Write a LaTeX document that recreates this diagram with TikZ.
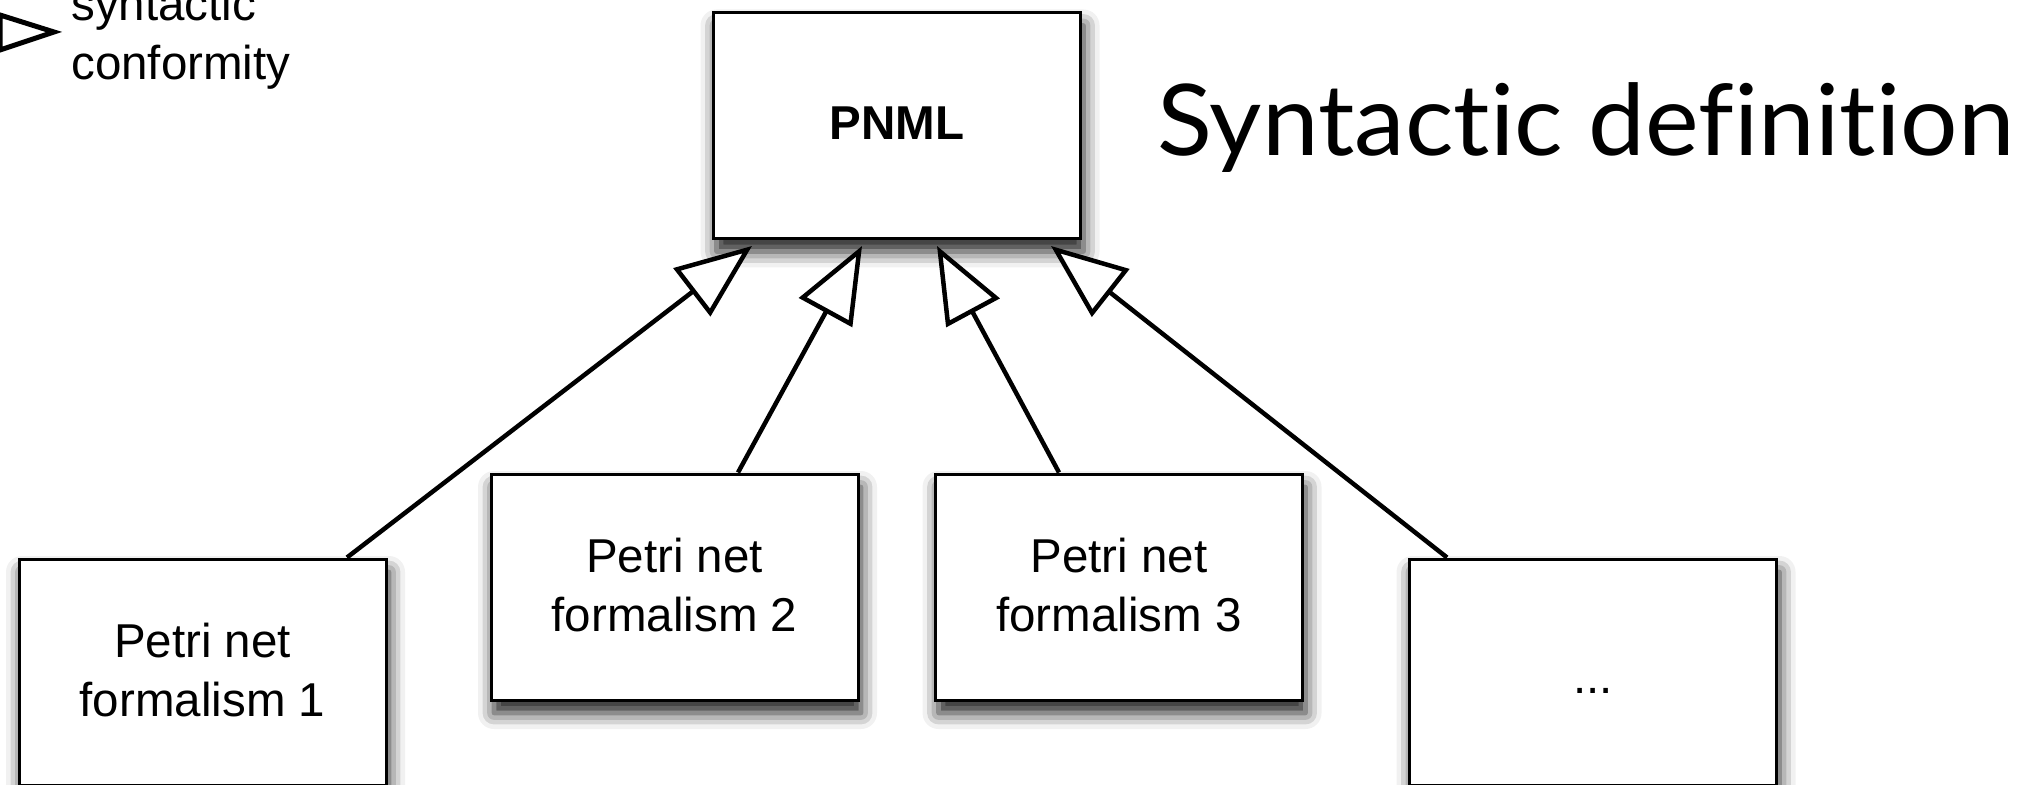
\documentclass[tikz,border=0pt]{standalone}
\usepackage{fontspec}
\setmainfont{Liberation Sans}
\newfontfamily\titlefont[Ligatures=NoCommon,RawFeature={-liga;-clig;-dlig}]{Lato}
\usetikzlibrary{arrows.meta,calc,shadows.blur}
\newcommand\boxstrut{\rule[-4pt]{0pt}{22.5pt}}
\tikzset{
  x=0.5pt, y=-0.5pt,
  fbox/.style={draw=black, line width=1.5pt, fill=white, rectangle,
    minimum width=183.5pt, minimum height=113pt, inner sep=0pt, align=center,
    font=\fontsize{23.75pt}{29.5pt}\selectfont,
    blur shadow={shadow xshift=1.5pt, shadow yshift=-6.5pt, shadow blur radius=8pt, shadow opacity=90}},
  conf/.style={line width=2.25pt, -{Triangle[fill=white, length=38pt, width=30pt, line width=2.25pt]}},
}
\begin{document}
\begin{tikzpicture}
\useasboundingbox (0,0) rectangle (2037,785);
% boxes
\node[fbox, font=\bfseries\fontsize{23.75pt}{29.5pt}\selectfont] (pnml) at (897,125.5) {\boxstrut PNML};
\node[fbox] (f1) at (202.5,672) {\boxstrut Petri net\\formalism 1\boxstrut};
\node[fbox] (f2) at (674.5,587) {\boxstrut Petri net\\formalism 2\boxstrut};
\node[fbox] (f3) at (1119,587) {\boxstrut Petri net\\formalism 3\boxstrut};
\node[fbox] (f4) at (1593,672) {\rule[-3pt]{0pt}{27pt}...};
% connectors
\draw[conf] ($(f1.north)+(144.5,0)$) -- ($(pnml.south)+(-145,6)$);
\draw[conf] ($(f2.north)+(63.5,0)$) -- ($(pnml.south)+(-35,6)$);
\draw[conf] ($(f3.north)+(-60,0)$) -- ($(pnml.south)+(40,6)$);
\draw[conf] ($(f4.north)+(-146,0)$) -- ($(pnml.south)+(154,6)$);
% title
\node[anchor=base west, inner sep=0pt, font=\titlefont\fontsize{49.5pt}{58pt}\selectfont] (title) at (1157,156) {\scalebox{1.025}[1]{Syntactic definition}};
% legend
\draw[line width=2.5pt, line join=miter] (0,15) -- (54,32) -- (0,50) -- cycle;
\node[anchor=base west, inner sep=0pt, align=left, font=\fontsize{23.75pt}{29.5pt}\selectfont] (legend) at (71,80) {syntactic\\conformity};
\end{tikzpicture}
\end{document}
